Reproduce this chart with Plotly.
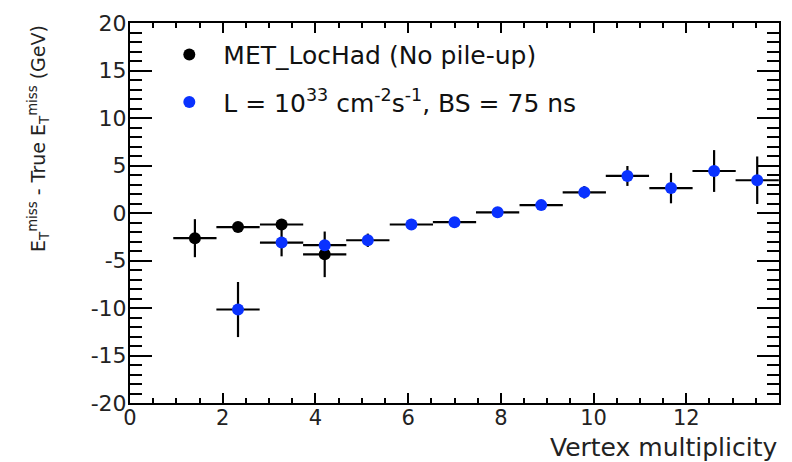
import plotly.graph_objects as go

# Bin centres (15 bins of width 14/15 between 0 and 14)
bin_width = 14 / 15
x_nopileup = [1.40, 2.33, 3.27, 4.20]
y_nopileup = [-2.65, -1.48, -1.21, -4.35]
e_nopileup = [2.0, 0.3, 0.3, 2.4]

x_pileup = [2.33, 3.27, 4.20, 5.13, 6.07, 7.00, 7.93, 8.87, 9.80, 10.73, 11.67, 12.60, 13.53]
y_pileup = [-10.16, -3.11, -3.39, -2.87, -1.21, -0.97, 0.07, 0.83, 2.18, 3.90, 2.62, 4.42, 3.45]
e_pileup = [2.9, 1.45, 0.3, 0.7, 0.3, 0.3, 0.55, 0.5, 0.65, 1.05, 1.6, 2.2, 2.5]

y_tickvals = [-20, -15, -10, -5, 0, 5, 10, 15, 20]
y_ticktext = ["-20", "-15", "-10", "-5", "0", "5", "10", "15", "20"]
x_tickvals = [0, 2, 4, 6, 8, 10, 12, 14]
x_ticktext = ["0", "2", "4", "6", "8", "10", "12", "14"]

name_nopileup = "MET_LocHad (No pile-up)"
name_pileup = "L = 10<sup>33</sup> cm<sup>-2</sup>s<sup>-1</sup>, BS = 75 ns"

FONT = "DejaVu Sans, Liberation Sans, Arial, sans-serif"

fig = go.Figure()
fig.add_trace(go.Scatter(
    x=x_nopileup, y=y_nopileup, mode="markers", name=name_nopileup,
    legendgroup="a",
    marker=dict(color="black", size=12),
    error_y=dict(type="data", array=e_nopileup, color="black", thickness=2.2, width=0),
    error_x=dict(type="constant", value=bin_width / 2, color="black", thickness=2.2, width=0),
))
fig.add_trace(go.Scatter(
    x=x_pileup, y=y_pileup, mode="markers", name=name_pileup,
    legendgroup="b",
    marker=dict(color="#0a32ff", size=12),
    error_y=dict(type="data", array=e_pileup, color="black", thickness=2.2, width=0),
    error_x=dict(type="constant", value=bin_width / 2, color="black", thickness=2.2, width=0),
))

axis_common = dict(
    showline=True, linecolor="black", linewidth=2, mirror="ticks",
    ticks="inside", tickcolor="black", tickwidth=1.5,
    showgrid=False, zeroline=False,
)
fig.update_xaxes(range=[0, 14], tickmode="array", tickvals=x_tickvals, ticktext=x_ticktext,
                 ticklen=10, ticklabelstandoff=-5,
                 tickfont=dict(family=FONT, size=21, color="#222"),
                 minor=dict(dtick=0.5, tick0=0, ticklen=5, ticks="inside", tickcolor="black", tickwidth=1.5, showgrid=False),
                 **axis_common)
fig.update_yaxes(range=[-20, 20], tickmode="array", tickvals=y_tickvals, ticktext=y_ticktext,
                 ticklen=22, ticklabelstandoff=-3,
                 tickfont=dict(family=FONT, size=22, color="#222"),
                 minor=dict(dtick=1, tick0=0, ticklen=12, ticks="inside", tickcolor="black", tickwidth=1.5, showgrid=False),
                 **axis_common)

fig.update_layout(
    width=792, height=462,
    margin=dict(l=130, r=11, t=17, b=59),
    paper_bgcolor="white", plot_bgcolor="white",
    font=dict(family=FONT, size=24, color="black"),
    showlegend=True,
    legend=dict(x=0.039, y=0.977, xanchor="left", yanchor="top", itemwidth=58,
                bgcolor="rgba(0,0,0,0)", font=dict(family=FONT, size=25, color="#111"),
                tracegroupgap=12, traceorder="grouped"),
    annotations=[
        dict(text="Vertex multiplicity", xref="paper", yref="paper", x=1.0, y=-0.117,
             xanchor="right", yanchor="middle", showarrow=False,
             font=dict(family=FONT, size=25, color="#222")),
        dict(text="E<sub>T</sub><sup>miss</sup> - True E<sub>T</sub><sup>miss</sup> (GeV)",
             xref="paper", yref="paper", x=-0.141, y=1.0, xanchor="center", yanchor="top",
             textangle=-90, showarrow=False,
             font=dict(family=FONT, size=19, color="#222")),
    ],
)

fig.write_html("out.html")
